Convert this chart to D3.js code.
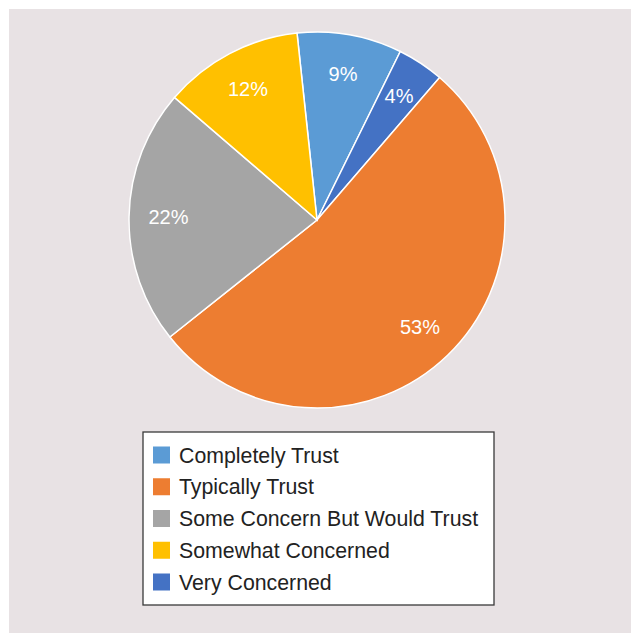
<!DOCTYPE html>
<html>
<head>
<meta charset="utf-8">
<script src="https://cdn.jsdelivr.net/npm/d3@7"></script>
<style>
  html, body { margin: 0; padding: 0; background: #fff; }
  svg { display: block; font-family: "Liberation Sans", Arial, Helvetica, sans-serif; }
</style>
</head>
<body>
<svg id="chart"></svg>
<script>
const width = 631;
const height = 633;

// legend order
const categories = ["Completely Trust", "Typically Trust", "Some Concern But Would Trust", "Somewhat Concerned", "Very Concerned"];
const colors = ["#5b9bd5", "#ed7d31", "#a5a5a5", "#ffc000", "#4472c4"];
// slices, clockwise from the top
const sliceOrder = ["Completely Trust", "Very Concerned", "Typically Trust", "Some Concern But Would Trust", "Somewhat Concerned"];
const percents = [9, 4, 53, 22, 12];

const color = d3.scaleOrdinal().domain(categories).range(colors);

const svg = d3.select("svg#chart").attr("width", width).attr("height", height);

svg.append("rect")
  .attr("x", 9).attr("y", 9)
  .attr("width", width - 9).attr("height", height - 9)
  .attr("fill", "#e8e2e4");

const cx = 317, cy = 220, radius = 188;
const startAngle = -6.1 * Math.PI / 180;

const slices = sliceOrder.map((name, i) => ({ name, value: percents[i] }));

const pie = d3.pie()
  .sort(null)
  .value(d => d.value)
  .startAngle(startAngle)
  .endAngle(startAngle + 2 * Math.PI);

const arc = d3.arc().innerRadius(0).outerRadius(radius);
const labelArc = d3.arc().innerRadius(radius * 0.79).outerRadius(radius * 0.79);

const g = svg.append("g").attr("transform", `translate(${cx},${cy})`);

g.selectAll("path")
  .data(pie(slices))
  .join("path")
  .attr("d", arc)
  .attr("fill", d => color(d.data.name))
  .attr("stroke", "#fff")
  .attr("stroke-width", 1.5);

g.selectAll("text")
  .data(pie(slices))
  .join("text")
  .attr("transform", d => `translate(${labelArc.centroid(d)})`)
  .attr("text-anchor", "middle")
  .attr("dy", "0.35em")
  .attr("fill", "#fff")
  .attr("font-size", 20)
  .text(d => d.data.value + "%");

// legend
const legend = svg.append("g").attr("transform", "translate(143,432)");
legend.append("rect")
  .attr("width", 351).attr("height", 173)
  .attr("fill", "#fff")
  .attr("stroke", "#3a3a3a")
  .attr("stroke-width", 1.3);

const rowY = d3.scalePoint().domain(categories).range([23, 150]);

const item = legend.selectAll("g.item")
  .data(categories)
  .join("g")
  .attr("class", "item")
  .attr("transform", d => `translate(0,${rowY(d)})`);

item.append("rect")
  .attr("x", 10).attr("y", -8.5)
  .attr("width", 17).attr("height", 17)
  .attr("fill", d => color(d));

item.append("text")
  .attr("x", 36)
  .attr("dy", "0.36em")
  .attr("font-size", 21.3)
  .attr("fill", "#222")
  .text(d => d);
</script>
</body>
</html>
